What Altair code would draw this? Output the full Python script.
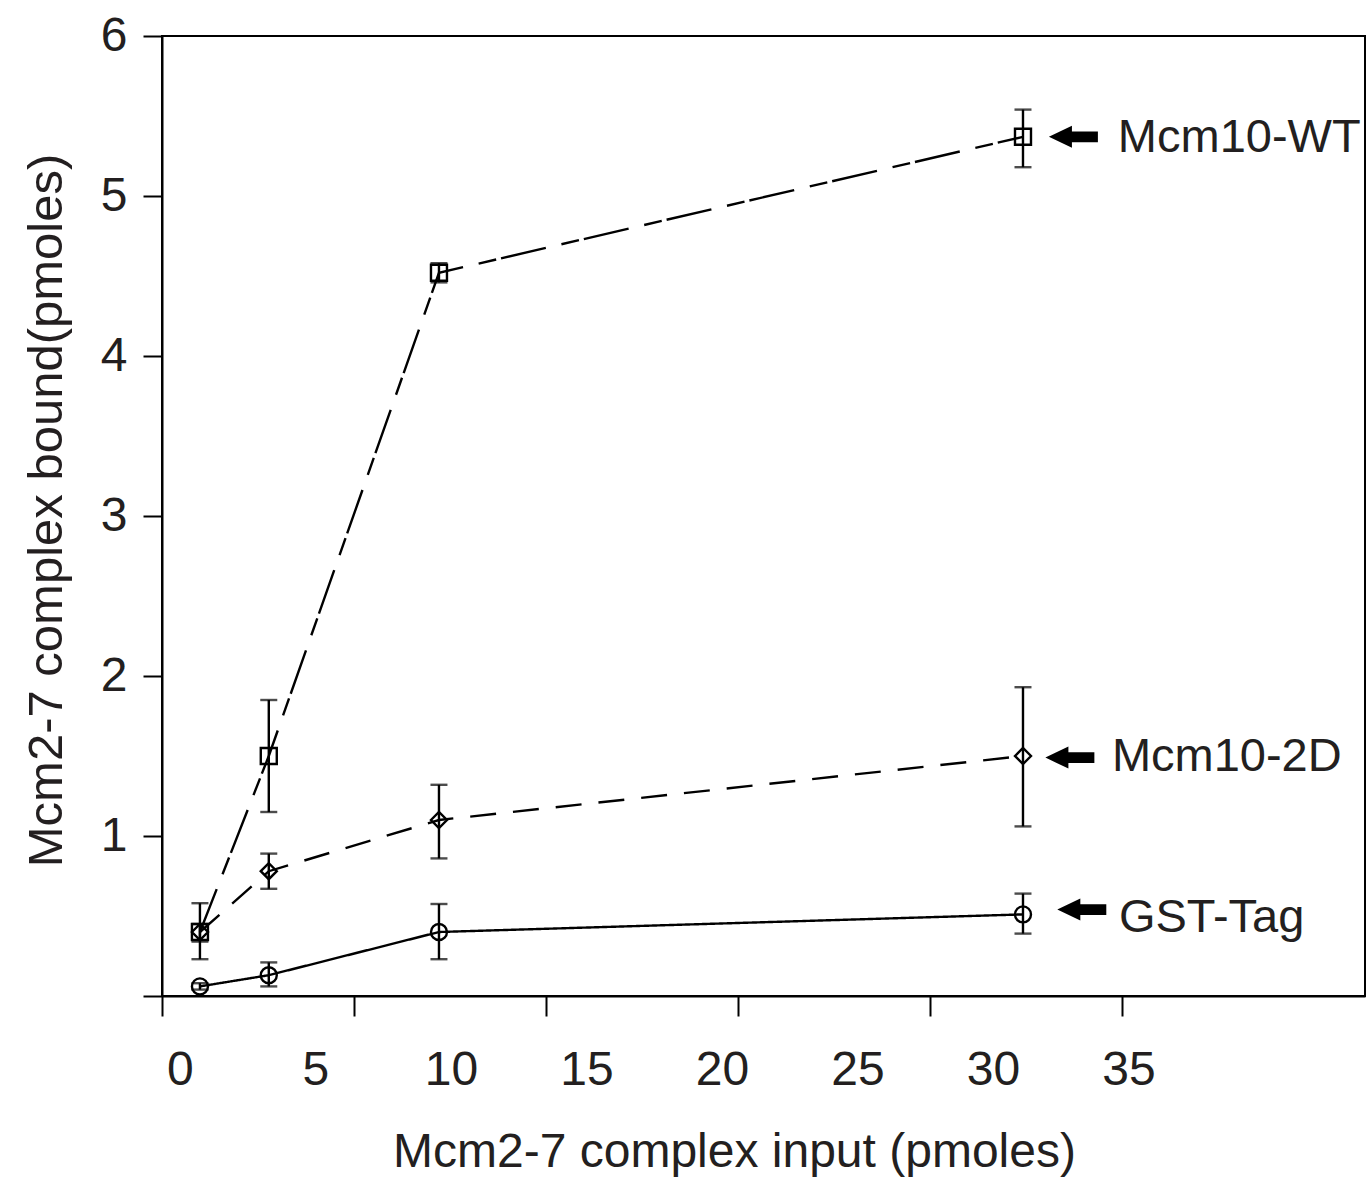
import altair as alt
import pandas as pd

FONT = "Liberation Sans"
INK = "#231f20"

# ---- data (x in units of the printed tick labels) ----
series_names = ["Mcm10-WT", "Mcm10-2D", "GST-Tag"]
x_input = [0.74, 3.28, 9.56, 31.11]

wt_mean = [0.40, 1.50, 4.52, 5.37]
wt_low = [0.23, 1.15, 4.46, 5.18]
wt_high = [0.58, 1.85, 4.58, 5.54]

d2_mean = [0.40, 0.78, 1.10, 1.50]
d2_low = [0.34, 0.67, 0.86, 1.06]
d2_high = [0.45, 0.89, 1.32, 1.93]

gst_mean = [0.06, 0.13, 0.40, 0.51]
gst_low = [0.04, 0.06, 0.23, 0.39]
gst_high = [0.08, 0.21, 0.575, 0.64]

# tick marks of the bottom axis (own scale) and the printed labels
tick_values = [0, 5, 10, 15, 20, 25]
label_values = [0, 5, 10, 15, 20, 25, 30, 35]
y_ticks = [0, 1, 2, 3, 4, 5, 6]

# annotation (arrow + label) positions in data units
ann_arrow_x = [32.97, 32.84, 33.28]
ann_arrow_y = [5.37, 1.49, 0.54]
ann_text_x = [34.61, 34.39, 34.65]
ann_text_y = [5.275, 1.406, 0.40]

rows = []
for name, m, lo, hi in zip(series_names,
                           [wt_mean, d2_mean, gst_mean],
                           [wt_low, d2_low, gst_low],
                           [wt_high, d2_high, gst_high]):
    for xv, a, b, c in zip(x_input, m, lo, hi):
        rows.append({"series": name, "x": xv, "y": a, "lo": b, "hi": c})
df = pd.DataFrame(rows)

ann = pd.DataFrame({"series": series_names, "ax": ann_arrow_x, "ay": ann_arrow_y,
                    "tx": ann_text_x, "ty": ann_text_y})

x_label_scale = alt.Scale(domain=[-0.66, 43.73], nice=False, zero=False)
y_scale = alt.Scale(domain=[0, 6], nice=False, zero=True)

x_axis = alt.Axis(values=label_values, ticks=False, tickSize=0, domain=False, grid=False,
                  orient="bottom", labelFontSize=48, labelBaseline="alphabetic",
                  labelPadding=88, labelFlush=False,
                  labelFont=FONT, labelColor=INK, titleFont=FONT, titleColor=INK,
                  title="Mcm2-7 complex input (pmoles)", titleFontSize=48,
                  titleFontWeight="normal", titleX=572, titleY=170,
                  titleAlign="center", titleBaseline="alphabetic")
y_axis = alt.Axis(values=y_ticks, tickSize=19, tickWidth=2, domainWidth=2, grid=False,
                  tickColor="black", domainColor="black",
                  labelFont=FONT, labelColor=INK, titleFont=FONT, titleColor=INK,
                  labelFontSize=48, labelPadding=16, labelBaseline="middle",
                  labelExpr="datum.value == 0 ? '' : datum.label",
                  title="Mcm2-7 complex bound(pmoles)", titleFontSize=49,
                  titleFontWeight="normal", titleAngle=270, titleX=-116, titleY=474,
                  titleAlign="center", titleBaseline="middle")


def X(field):
    return alt.X(f"{field}:Q", scale=x_label_scale, axis=x_axis)


def Y(field):
    return alt.Y(f"{field}:Q", scale=y_scale, axis=y_axis)


base = alt.Chart(df)

dash_scale = alt.Scale(domain=series_names, range=[[46, 16, 18, 5], [26, 17], [1, 0]])
shape_scale = alt.Scale(domain=series_names, range=["square", "diamond", "circle"])

SW = 2.4

lines = base.mark_line(color="black", strokeWidth=SW).encode(
    x=X("x"), y=Y("y"),
    strokeDash=alt.StrokeDash("series:N", scale=dash_scale, legend=None),
    detail="series:N",
)
err = base.mark_rule(color="black", strokeWidth=SW).encode(
    x=X("x"), y=Y("lo"), y2="hi")
cap_lo = base.mark_tick(color="black", orient="horizontal", size=17, thickness=SW).encode(
    x=X("x"), y=Y("lo"))
cap_hi = base.mark_tick(color="black", orient="horizontal", size=17, thickness=SW).encode(
    x=X("x"), y=Y("hi"))
pts = base.mark_point(filled=False, color="black", strokeWidth=SW, size=256, opacity=1).encode(
    x=X("x"), y=Y("y"),
    shape=alt.Shape("series:N", scale=shape_scale, legend=None),
)

ARROW = "M -1 0 L -0.06 -0.45 L -0.06 -0.22 L 1 -0.22 L 1 0.22 L -0.06 0.22 L -0.06 0.45 Z"
arrows = alt.Chart(ann).mark_point(shape=ARROW, filled=True, color="black", size=2401,
                                   opacity=1, strokeWidth=0).encode(x=X("ax"), y=Y("ay"))
texts = alt.Chart(ann).mark_text(align="left", baseline="alphabetic", font=FONT,
                                 fontSize=47, color=INK).encode(
    x=X("tx"), y=Y("ty"), text="series:N")

inner = alt.layer(lines, err, cap_lo, cap_hi, pts, arrows, texts)

tick_layer = alt.Chart(pd.DataFrame({"t": tick_values})).mark_point(opacity=0).encode(
    x=alt.X("t:Q", scale=alt.Scale(domain=[0, 31.33], nice=False, zero=False),
            axis=alt.Axis(values=tick_values, labels=False, tickSize=20, tickWidth=2,
                          tickColor="black", domainColor="black",
                          domain=True, domainWidth=2, grid=False, title=None,
                          orient="bottom"))
)

chart = alt.layer(tick_layer, inner).resolve_scale(x="independent").properties(
    width=1203, height=960,
    background="white",
    autosize=alt.AutoSizeParams(type="none"),
    padding={"left": 162, "top": 36, "right": 4, "bottom": 182},
).configure_view(stroke="black", strokeWidth=2, strokeOpacity=1)

chart.save("out.html", embed_options={"renderer": "svg", "actions": False})
